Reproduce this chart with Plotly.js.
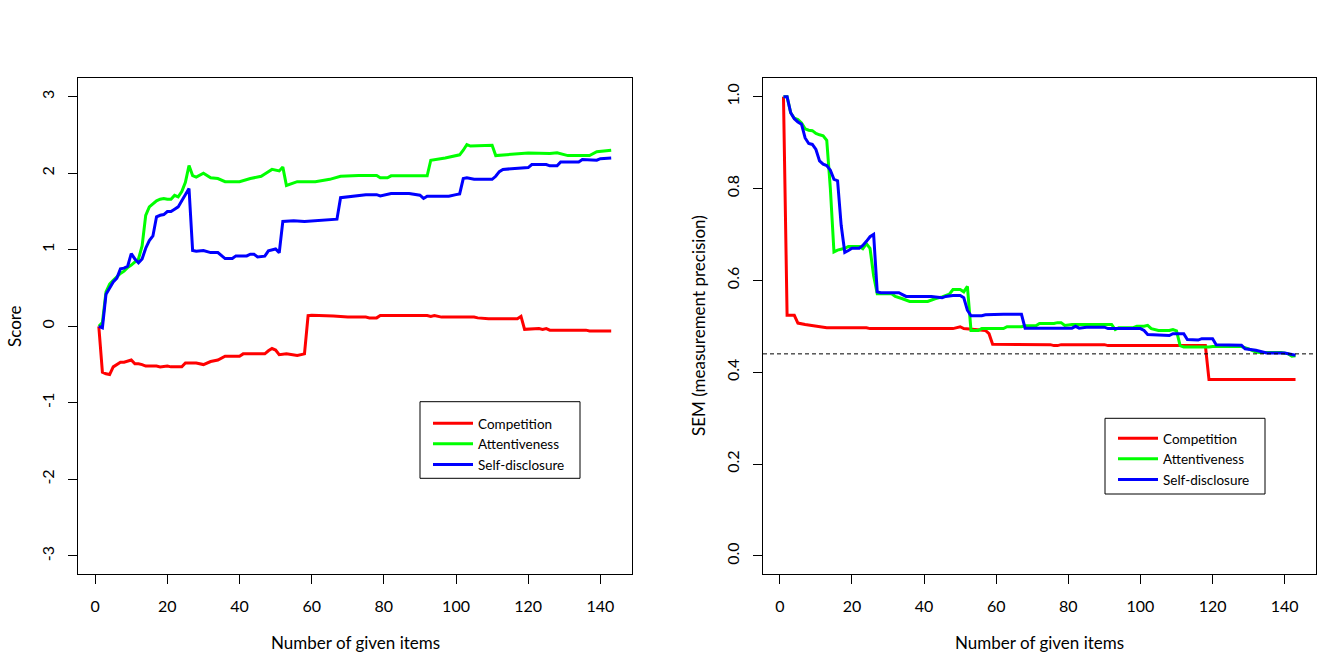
<!DOCTYPE html>
<html>
<head>
<meta charset="utf-8">
<script src="https://cdn.plot.ly/plotly-3.0.1.min.js"></script>
<style>
html,body{margin:0;padding:0;background:#fff;}
#chart{width:1344px;height:672px;}
</style>
</head>
<body>
<div id="chart"></div>
<script>
// ---- series meta ----
const seriesNames = ['Competition', 'Attentiveness', 'Self-disclosure'];
const seriesColors = ['#ff0000', '#00ff00', '#0000ff'];

// ---- left panel: Score by number of given items ----
const scoreCompX = [1,2,3,4,5,6,7,8,9,10,11,12,13,14,17,18,20,21,24,25,28,30,32,34,36,40,41,47,48,49,50,51,53,56,58,59,60,64,66,70,75,76,78,79,92,93,94,96,105,106,109,117,118,119,123,124,125,126,136,137,143];
const scoreCompY = [0,-0.60,-0.62,-0.63,-0.53,-0.50,-0.47,-0.47,-0.45,-0.44,-0.49,-0.49,-0.50,-0.52,-0.52,-0.53,-0.52,-0.53,-0.53,-0.48,-0.48,-0.50,-0.46,-0.44,-0.39,-0.39,-0.36,-0.36,-0.32,-0.29,-0.31,-0.37,-0.36,-0.38,-0.36,0.14,0.145,0.14,0.135,0.12,0.12,0.11,0.11,0.14,0.14,0.13,0.14,0.12,0.12,0.11,0.10,0.10,0.13,-0.04,-0.03,-0.04,-0.03,-0.05,-0.05,-0.06,-0.06];

const scoreAttX = [1,2,3,4,5,6,7,8,9,10,11,12,13,14,15,16,17,18,19,20,21,22,23,24,25,26,27,28,30,32,34,36,40,43,46,47,49,51,52,53,56,61,65,68,73,78,79,81,82,92,93,97,101,102,103,104,110,111,117,120,126,128,131,137,139,143];
const scoreAttY = [0,0.05,0.45,0.55,0.60,0.645,0.69,0.72,0.77,0.80,0.84,0.88,1.05,1.45,1.56,1.60,1.64,1.66,1.67,1.66,1.66,1.71,1.69,1.76,1.88,2.10,1.97,1.95,2.00,1.94,1.93,1.89,1.89,1.93,1.96,1.99,2.05,2.03,2.08,1.84,1.89,1.89,1.92,1.96,1.97,1.97,1.94,1.94,1.966,1.966,2.17,2.20,2.24,2.30,2.375,2.355,2.365,2.23,2.25,2.265,2.257,2.266,2.23,2.23,2.28,2.30];

const scoreSelfX = [1,2,3,4,5,6,7,8,9,10,11,12,13,14,15,16,17,18,19,20,21,22,23,24,25,26,27,28,30,32,34,36,38,39,42,43,44,45,47,48,50,51,52,55,58,64,67,68,71,75,78,79,82,87,90,91,92,98,100,101,102,103,105,110,111,112,113,117,120,121,125,126,128,129,134,135,139,140,143];
const scoreSelfY = [0,-0.02,0.42,0.50,0.58,0.63,0.75,0.76,0.785,0.95,0.88,0.83,0.88,1.02,1.12,1.18,1.43,1.45,1.46,1.50,1.50,1.53,1.56,1.64,1.73,1.80,0.99,0.98,0.99,0.963,0.963,0.885,0.885,0.92,0.92,0.942,0.942,0.907,0.916,0.985,1.01,0.96,1.37,1.38,1.37,1.39,1.40,1.68,1.70,1.72,1.72,1.704,1.735,1.735,1.713,1.67,1.70,1.70,1.72,1.73,1.93,1.94,1.92,1.92,1.96,2.02,2.05,2.06,2.074,2.113,2.113,2.096,2.096,2.148,2.148,2.18,2.17,2.19,2.20];

// ---- right panel: SEM by number of given items ----
const semCompX = [1,2,4,5,7,9,11,13,24,25,48,49,50,51,57,58,59,75,76,77,78,90,91,118,119,143];
const semCompY = [1.0,0.524,0.524,0.507,0.504,0.502,0.50,0.497,0.497,0.495,0.495,0.497,0.499,0.495,0.491,0.484,0.461,0.46,0.458,0.458,0.46,0.46,0.458,0.458,0.384,0.384];

const semAttX = [1,2,3,4,5,6,7,8,9,10,11,12,13,14,15,16,18,19,22,23,24,25,26,27,31,32,34,36,41,43,45,47,48,50,51,52,53,55,56,62,63,67,68,71,72,76,77,78,79,81,92,93,94,98,99,101,102,103,105,108,109,110,111,112,119,120,128,130,132,133,139,141,142,143];
const semAttY = [1.0,1.0,0.965,0.953,0.95,0.943,0.93,0.927,0.926,0.92,0.917,0.915,0.905,0.80,0.662,0.666,0.67,0.674,0.674,0.669,0.68,0.67,0.61,0.571,0.571,0.565,0.56,0.554,0.554,0.56,0.564,0.57,0.58,0.58,0.575,0.587,0.491,0.491,0.495,0.495,0.499,0.499,0.501,0.501,0.506,0.506,0.508,0.508,0.502,0.504,0.504,0.493,0.497,0.497,0.50,0.50,0.502,0.495,0.491,0.491,0.493,0.49,0.458,0.455,0.455,0.456,0.456,0.451,0.444,0.443,0.443,0.44,0.435,0.436];

const semSelfX = [1,2,3,4,5,6,7,8,9,10,11,12,13,14,15,16,17,18,19,20,22,23,24,25,26,27,28,33,34,35,42,45,46,48,50,51,52,53,56,57,62,67,68,81,82,83,85,90,91,100,101,102,108,109,112,113,116,117,120,121,128,129,132,133,135,140,141,143];
const semSelfY = [1.0,1.0,0.965,0.952,0.945,0.94,0.91,0.898,0.896,0.885,0.86,0.853,0.85,0.84,0.82,0.817,0.72,0.661,0.665,0.67,0.67,0.676,0.685,0.695,0.70,0.575,0.573,0.573,0.569,0.565,0.565,0.562,0.565,0.567,0.567,0.562,0.535,0.523,0.523,0.525,0.526,0.526,0.496,0.496,0.50,0.496,0.498,0.498,0.495,0.495,0.491,0.482,0.48,0.484,0.484,0.471,0.47,0.473,0.473,0.46,0.459,0.451,0.448,0.446,0.442,0.442,0.44,0.437];

// reference level on the SEM panel
const semTarget = 0.44;

// ---- ticks and labels ----
const itemTickVals = [0,20,40,60,80,100,120,140];
const scoreTickVals = [-3,-2,-1,0,1,2,3];
const scoreTickText = ['-3','-2','-1','0','1','2','3'];
const semTickVals = [0,0.2,0.4,0.6,0.8,1.0];
const semTickText = ['0.0','0.2','0.4','0.6','0.8','1.0'];
const xTitle = 'Number of given items';
const scoreTitle = 'Score';
const semTitle = 'SEM (measurement precision)';

// ---- build ----
const FONT = 'Lato, "Open Sans", sans-serif';
const W = 1344, H = 672;

function mk(x, y, i, xa, ya, lg) {
  return {
    type: 'scatter', mode: 'lines', x: x, y: y,
    name: seriesNames[i], xaxis: xa, yaxis: ya, legend: lg,
    line: {color: seriesColors[i], width: 3},
    hoverinfo: 'skip', showlegend: true
  };
}

const data = [
  mk(scoreCompX, scoreCompY, 0, 'x', 'y', 'legend'),
  mk(scoreAttX, scoreAttY, 1, 'x', 'y', 'legend'),
  mk(scoreSelfX, scoreSelfY, 2, 'x', 'y', 'legend'),
  mk(semCompX, semCompY, 0, 'x2', 'y2', 'legend2'),
  mk(semAttX, semAttY, 1, 'x2', 'y2', 'legend2'),
  mk(semSelfX, semSelfY, 2, 'x2', 'y2', 'legend2')
];

const ax = {
  showline: true, mirror: true, linecolor: '#000', linewidth: 1,
  ticks: 'outside', ticklen: 9, tickwidth: 1, tickcolor: '#000',
  showgrid: false, zeroline: false, automargin: false, fixedrange: true,
  tickfont: {family: FONT, size: 16, color: '#000'}
};

const yDom = [1 - 574.3 / H, 1 - 78.3 / H];
const xRange = [-4.68, 148.68];

function px(v) { return v / W; }
function py(v) { return 1 - v / H; }

const legendFont = {family: FONT, size: 13.5, color: '#000'};

const layout = {
  width: W, height: H,
  margin: {l: 0, r: 0, t: 0, b: 0},
  paper_bgcolor: '#fff', plot_bgcolor: '#fff',
  showlegend: true,
  xaxis: Object.assign({}, ax, {domain: [px(78.3), px(631.7)], range: xRange, tickvals: itemTickVals, anchor: 'y', ticklabelstandoff: 8}),
  yaxis: Object.assign({}, ax, {domain: yDom, range: [-3.24, 3.24], tickvals: scoreTickVals, ticktext: scoreTickText, tickangle: -90, anchor: 'x', ticklabelstandoff: 8}),
  xaxis2: Object.assign({}, ax, {domain: [px(763), px(1316)], range: xRange, tickvals: itemTickVals, anchor: 'y2', ticklabelstandoff: 8}),
  yaxis2: Object.assign({}, ax, {domain: yDom, range: [-0.04, 1.04], tickvals: semTickVals, ticktext: semTickText, tickangle: -90, anchor: 'x2', ticklabelstandoff: 8}),
  legend: {x: px(428), y: py(408), xanchor: 'left', yanchor: 'top', bgcolor: 'rgba(0,0,0,0)', borderwidth: 0, itemwidth: 40, font: legendFont, traceorder: 'normal'},
  legend2: {x: px(1113), y: py(423), xanchor: 'left', yanchor: 'top', bgcolor: 'rgba(0,0,0,0)', borderwidth: 0, itemwidth: 40, font: legendFont, traceorder: 'normal'},
  shapes: [
    {type: 'rect', xref: 'paper', yref: 'paper', x0: px(420), x1: px(580), y0: py(478.3), y1: py(401.7), line: {color: '#000', width: 1}, fillcolor: '#fff', layer: 'above'},
    {type: 'rect', xref: 'paper', yref: 'paper', x0: px(1105), x1: px(1265), y0: py(494), y1: py(418.3), line: {color: '#000', width: 1}, fillcolor: '#fff', layer: 'above'},
    {type: 'line', xref: 'x2 domain', yref: 'y2', x0: 0, x1: 1, y0: semTarget, y1: semTarget, line: {color: '#000', width: 1, dash: '4px,3px'}, layer: 'above'}
  ],
  annotations: [
    {text: scoreTitle, xref: 'paper', yref: 'paper', x: px(14), y: py(326), textangle: -90, showarrow: false, xanchor: 'center', yanchor: 'middle', font: {family: FONT, size: 17, color: '#000'}},
    {text: semTitle, xref: 'paper', yref: 'paper', x: px(698), y: py(326), textangle: -90, showarrow: false, xanchor: 'center', yanchor: 'middle', font: {family: FONT, size: 17, color: '#000'}},
    {text: xTitle, xref: 'paper', yref: 'paper', x: px(355), y: py(642), showarrow: false, xanchor: 'center', yanchor: 'middle', font: {family: FONT, size: 17, color: '#000'}},
    {text: xTitle, xref: 'paper', yref: 'paper', x: px(1039.5), y: py(642), showarrow: false, xanchor: 'center', yanchor: 'middle', font: {family: FONT, size: 17, color: '#000'}}
  ]
};

Plotly.newPlot('chart', data, layout, {staticPlot: true, displayModeBar: false});
</script>
</body>
</html>
